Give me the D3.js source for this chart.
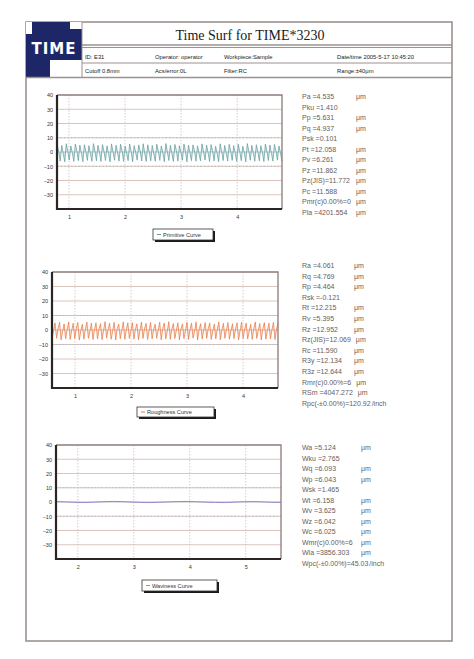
<!DOCTYPE html>
<html>
<head>
<meta charset="utf-8">
<script src="https://cdn.jsdelivr.net/npm/d3@7"></script>
<style>
  html, body { margin: 0; padding: 0; background: #ffffff; }
  svg { display: block; }
</style>
</head>
<body>
<svg id="page" width="474" height="659"></svg>
<script>
// ---- Report header ----
const reportTitle = "Time Surf for TIME*3230";
const headerRow1 = ["ID: E31", "Operator: operator", "Workpiece:Sample", "Date/time 2005-5-17 10:45:20"];
const headerRow2 = ["Cutoff 0.8mm", "Acs/error:0L", "Filter:RC", "Range:±40μm"];

// ---- Shared axis ticks ----
const yTicks = [40, 30, 20, 10, 0, -10, -20, -30];
const yLimitLines = [10, -10];

// ---- Primitive profile ----
const primaryTicks = [1, 2, 3, 4];
const primaryStart = 0.79, primaryStep = 0.02691;
const primaryValues = [
  5.3,0.2,-6.4, 4.6,-1.1,-6.9, 5.8,0.6,-5.7, 4.2,-0.4,-6.6, 5.5,1.0,-6.1, 4.9,-0.7,-6.8, 5.1,0.3,-5.9, 4.4,-1.2,-6.5, 5.9,0.8,-6.2, 4.7,-0.2,-6.7,
  5.2,0.5,-6.0, 4.3,-0.9,-6.9, 5.7,0.1,-5.8, 4.8,-0.5,-6.4, 5.4,0.9,-6.6, 4.1,-1.0,-6.1, 5.6,0.4,-6.8, 4.5,-0.3,-5.7, 5.0,0.7,-6.3, 5.8,-0.8,-6.7,
  5.1,0.2,-6.2, 4.6,-1.1,-6.5, 5.5,0.6,-5.9, 4.2,-0.6,-6.8, 5.9,0.3,-6.0, 4.7,-0.9,-6.6, 5.3,1.0,-6.4, 4.4,-0.2,-5.8, 5.6,0.5,-6.9, 4.9,-0.7,-6.1,
  5.0,0.8,-6.5, 4.3,-1.2,-6.2, 5.7,0.0,-5.7, 4.8,-0.4,-6.7, 5.2,0.9,-6.3, 4.0,-1.0,-6.8, 5.8,0.4,-6.0, 4.6,-0.5,-6.4, 5.4,0.7,-5.9, 4.5,-0.8,-6.6,
  5.5,0.3,-6.1, 4.1,-0.6,-6.9, 5.9,0.9,-5.8, 4.7,-1.1,-6.5, 5.1,0.2,-6.2, 4.4,-0.3,-6.7, 5.6,0.6,-6.0, 4.9,-0.9,-6.4, 5.3,0.8,-5.7, 4.2,-0.5,-6.8
];
const primaryStats = [
  ["Pa", "=4.535", "μm"], ["Pku", "=1.410", ""], ["Pp", "=5.631", "μm"], ["Pq", "=4.937", "μm"],
  ["Psk", "=0.101", ""], ["Pt", "=12.058", "μm"], ["Pv", "=6.261", "μm"], ["Pz", "=11.862", "μm"],
  ["Pz(JIS)", "=11.772", "μm"], ["Pc", "=11.588", "μm"], ["Pmr(c)0.00%", "=0", "μm"], ["Pla", "=4201.554", "μm"]
];

// ---- Roughness profile ----
const roughTicks = [1, 2, 3, 4];
const roughStart = 0.59, roughStep = 0.02708;
const roughValues = [
  -6.2,-0.4,4.9, -5.7,0.8,5.4, -6.8,-0.9,4.2, -6.0,0.3,5.6, -6.5,-0.2,4.6, -5.9,1.0,5.2, -6.9,-0.6,4.0, -6.3,0.5,5.5, -5.8,-1.0,4.8, -6.6,0.2,5.0,
  -6.1,0.7,4.4, -6.7,-0.3,5.7, -5.6,0.4,4.7, -6.4,-0.8,5.3, -6.9,0.9,4.1, -6.0,-0.5,5.6, -6.5,0.1,4.9, -5.8,-1.1,5.1, -6.3,0.6,4.3, -6.8,-0.2,5.5,
  -5.9,0.8,4.6, -6.6,-0.7,5.2, -6.2,0.3,4.0, -5.7,-0.4,5.4, -6.8,1.0,4.8, -6.1,-0.9,5.7, -6.4,0.5,4.5, -5.9,-0.1,5.0, -6.7,0.7,4.2, -6.0,-0.6,5.3,
  -6.5,0.2,4.7, -5.6,-1.0,5.6, -6.9,0.4,4.4, -6.3,-0.3,5.1, -5.8,0.9,4.9, -6.6,-0.8,4.1, -6.1,0.6,5.5, -6.7,-0.2,4.6, -5.7,0.1,5.2, -6.4,-0.5,4.3,
  -6.0,0.8,5.0, -6.8,-0.7,5.4, -5.9,0.3,4.8, -6.2,-1.1,4.0, -6.5,0.5,5.6, -5.8,-0.4,4.5, -6.9,0.9,5.1, -6.3,-0.6,4.7, -6.1,0.0,5.3, -6.6,0.4,4.9
];
const roughStats = [
  ["Ra", "=4.061", "μm"], ["Rq", "=4.769", "μm"], ["Rp", "=4.464", "μm"], ["Rsk", "=-0.121", ""],
  ["Rt", "=12.215", "μm"], ["Rv", "=5.395", "μm"], ["Rz", "=12.952", "μm"], ["Rz(JIS)", "=12.069", "μm"],
  ["Rc", "=11.590", "μm"], ["R3y", "=12.134", "μm"], ["R3z", "=12.644", "μm"], ["Rmr(c)0.00%", "=6", "μm"],
  ["RSm", "=4047.272", "μm"], ["Rpc(-±0.00%)", "=120.92", "/inch"]
];

// ---- Waviness profile ----
const waveTicks = [2, 3, 4, 5];
const waveStart = 1.61, waveStep = 0.1675;
const waveValues = [
  0.3,0.1,-0.2,-0.4,-0.1,0.2,0.4,0.3,0.0,-0.3,-0.4,-0.2,0.1,0.3,0.4,0.2,-0.1,-0.3,-0.4,-0.1,0.2,0.3,0.1,-0.2,-0.3
];
const waveStats = [
  ["Wa", "=5.124", "μm"], ["Wku", "=2.765", ""], ["Wq", "=6.093", "μm"], ["Wp", "=6.043", "μm"],
  ["Wsk", "=1.465", ""], ["Wt", "=6.158", "μm"], ["Wv", "=3.625", "μm"], ["Wz", "=6.042", "μm"],
  ["Wc", "=6.025", "μm"], ["Wmr(c)0.00%", "=6", "μm"], ["Wla", "=3856.303", "μm"], ["Wpc(-±0.00%)", "=45.03", "/inch"]
];

const svg = d3.select("#page");
const sans = "'Liberation Sans', Arial, sans-serif";

// ---- Page frame and header ----
const frame = { x: 26, y: 22, w: 426, h: 619 };
svg.append("rect").attr("x", frame.x).attr("y", frame.y).attr("width", frame.w).attr("height", frame.h)
  .attr("fill", "#fff").attr("stroke", "#9c928c").attr("stroke-width", 1.6);

// logo block
const logo = svg.append("g");
logo.append("rect").attr("x", 26).attr("y", 22).attr("width", 56).attr("height", 55).attr("fill", "#1d2767");
logo.append("rect").attr("x", 70).attr("y", 22).attr("width", 12).attr("height", 7).attr("fill", "#fff");
logo.append("rect").attr("x", 50).attr("y", 60).attr("width", 32).attr("height", 17).attr("fill", "#fff");
logo.append("rect").attr("x", 26).attr("y", 22).attr("width", 6).attr("height", 12).attr("fill", "#fff");
logo.append("text").attr("x", 54).attr("y", 54).attr("text-anchor", "middle")
  .attr("font-family", "'DejaVu Sans', sans-serif").attr("font-weight", "bold").attr("font-size", 15)
  .attr("letter-spacing", 1).attr("fill", "#fff").text("TIME");

const hdr = svg.append("g").attr("stroke", "#9c928c");
hdr.append("line").attr("x1", 82).attr("x2", 452).attr("y1", 45).attr("y2", 45).attr("stroke-width", 1.6);
hdr.append("line").attr("x1", 82).attr("x2", 452).attr("y1", 47.5).attr("y2", 47.5).attr("stroke-width", 1);
hdr.append("line").attr("x1", 82).attr("x2", 452).attr("y1", 63).attr("y2", 63).attr("stroke-width", 1);
hdr.append("line").attr("x1", 26).attr("x2", 452).attr("y1", 77.5).attr("y2", 77.5).attr("stroke-width", 1.4);
hdr.append("line").attr("x1", 82).attr("x2", 82).attr("y1", 22).attr("y2", 77).attr("stroke-width", 1);

svg.append("text").attr("x", 250).attr("y", 40).attr("text-anchor", "middle")
  .attr("font-family", "'Liberation Serif', 'Times New Roman', serif").attr("font-size", 14)
  .attr("fill", "#1a1a1a").text(reportTitle);

const headerCols = [85, 155, 224, 337];
[headerRow1, headerRow2].forEach((row, r) => {
  svg.append("g").selectAll("text").data(row).join("text")
    .attr("x", (d, i) => headerCols[i]).attr("y", r === 0 ? 58.5 : 73)
    .attr("font-family", sans).attr("font-size", 5.8).attr("fill", "#222").text(d => d);
});

// ---- Chart panel ----
function drawChart(cfg) {
  const g = svg.append("g");
  const x = d3.scaleLinear().domain(cfg.xDomain).range([cfg.left, cfg.right]);
  const y = d3.scaleLinear().domain([-40, 40]).range([cfg.bottom, cfg.top]);

  // horizontal grid
  g.append("g").selectAll("line").data(yTicks.filter(t => t !== 40)).join("line")
    .attr("x1", cfg.left).attr("x2", cfg.right)
    .attr("y1", d => y(d)).attr("y2", d => y(d))
    .attr("stroke", d => d === 0 ? "#c9bcc8" : "#dcc4bd").attr("stroke-width", 1);
  // dotted limit lines
  g.append("g").selectAll("line").data(yLimitLines).join("line")
    .attr("x1", cfg.left).attr("x2", cfg.right)
    .attr("y1", d => y(d)).attr("y2", d => y(d))
    .attr("stroke", "#a8b8c0").attr("stroke-width", 0.8).attr("stroke-dasharray", "1.5,2");
  // vertical grid
  g.append("g").selectAll("line").data(cfg.ticks).join("line")
    .attr("x1", d => x(d)).attr("x2", d => x(d)).attr("y1", cfg.top).attr("y2", cfg.bottom)
    .attr("stroke", "#c9c2c0").attr("stroke-width", 0.8).attr("stroke-dasharray", "1.5,1.5");

  // profile curve
  const pts = cfg.values.map((v, i) => [cfg.start + i * cfg.step, v]);
  if (cfg.fill) {
    g.append("path").datum(pts)
      .attr("d", d3.area().x(d => x(d[0])).y0(y(0)).y1(d => y(d[1])))
      .attr("fill", cfg.fill);
  }
  g.append("path").datum(pts)
    .attr("d", d3.line().x(d => x(d[0])).y(d => y(d[1])))
    .attr("fill", "none").attr("stroke", cfg.color).attr("stroke-width", cfg.width);

  // plot frame: light top/right, heavy left/bottom
  g.append("path").attr("d", `M${cfg.left},${cfg.top}H${cfg.right}V${cfg.bottom}`)
    .attr("fill", "none").attr("stroke", "#8a7c78").attr("stroke-width", 1.3);
  g.append("path").attr("d", `M${cfg.left},${cfg.top}V${cfg.bottom}H${cfg.right}`)
    .attr("fill", "none").attr("stroke", "#2b2523").attr("stroke-width", 2.2);

  // y axis labels
  const ya = d3.axisLeft(y).tickValues(yTicks).tickSize(0).tickPadding(4);
  const yg = g.append("g").attr("transform", `translate(${cfg.left},0)`).call(ya);
  yg.select(".domain").remove();
  yg.selectAll("text").attr("font-family", sans).attr("font-size", 5.5).attr("fill", "#333");

  // x axis labels
  const xa = d3.axisBottom(x).tickValues(cfg.ticks).tickFormat(d3.format("d")).tickSize(0).tickPadding(6);
  const xg = g.append("g").attr("transform", `translate(0,${cfg.bottom})`).call(xa);
  xg.select(".domain").remove();
  xg.selectAll("text").attr("font-family", sans).attr("font-size", 5.5).attr("fill", "#333");

  // legend box with drop shadow
  const L = cfg.legend;
  g.append("rect").attr("x", L.x + 2).attr("y", L.y + 2).attr("width", L.w).attr("height", L.h).attr("fill", "#1a1a1a");
  g.append("rect").attr("x", L.x).attr("y", L.y).attr("width", L.w).attr("height", L.h)
    .attr("fill", "#fff").attr("stroke", "#333").attr("stroke-width", 0.8);
  g.append("line").attr("x1", L.x + 4).attr("x2", L.x + 8).attr("y1", L.y + L.h / 2).attr("y2", L.y + L.h / 2)
    .attr("stroke", cfg.color).attr("stroke-width", 1);
  g.append("text").attr("x", L.x + 10).attr("y", L.y + L.h / 2 + 2)
    .attr("font-family", sans).attr("font-size", 5.6).attr("fill", "#333").text(cfg.label);

  // statistics column
  const st = g.append("g").attr("font-family", sans).attr("font-size", 7).attr("fill", "#666060");
  cfg.stats.forEach((s, i) => {
    const yy = cfg.statsY + i * cfg.statsGap;
    const t = st.append("text").attr("x", cfg.statsX).attr("y", yy);
    t.append("tspan").text(s[0] + (s[0].length <= 3 ? " " : "") + s[1]);
    if (s[2]) {
      const w = t.node().getComputedTextLength();
      const ux = Math.max(cfg.unitX, cfg.statsX + w + 5);
      st.append("text").attr("x", s[2] === "/inch" ? cfg.statsX + w + 1 : ux).attr("y", yy).text(s[2]);
    }
  });
}

drawChart({
  xDomain: [0.786, 4.80], left: 57, right: 282, top: 95, bottom: 209,
  ticks: primaryTicks, values: primaryValues, start: primaryStart, step: primaryStep,
  color: "#5f9a98", width: 0.7, fill: "rgba(170,215,222,0.55)",
  legend: { x: 153, y: 229, w: 60, h: 11 }, label: "Primitive Curve",
  stats: primaryStats, statsX: 302, statsY: 99, statsGap: 10.5, unitX: 356
});

drawChart({
  xDomain: [0.59, 4.625], left: 52, right: 278, top: 272, bottom: 388,
  ticks: roughTicks, values: roughValues, start: roughStart, step: roughStep,
  color: "#e8743e", width: 0.7, fill: "rgba(248,200,170,0.5)",
  legend: { x: 137, y: 407, w: 77, h: 10 }, label: "Roughness Curve",
  stats: roughStats, statsX: 302, statsY: 268, statsGap: 10.6, unitX: 354
});

drawChart({
  xDomain: [1.61, 5.63], left: 56, right: 281, top: 445, bottom: 559,
  ticks: waveTicks, values: waveValues, start: waveStart, step: waveStep,
  color: "#9a88c8", width: 1, fill: null,
  legend: { x: 142, y: 580, w: 75, h: 11 }, label: "Waviness Curve",
  stats: waveStats, statsX: 302, statsY: 450, statsGap: 10.5, unitX: 361
});
</script>
</body>
</html>
